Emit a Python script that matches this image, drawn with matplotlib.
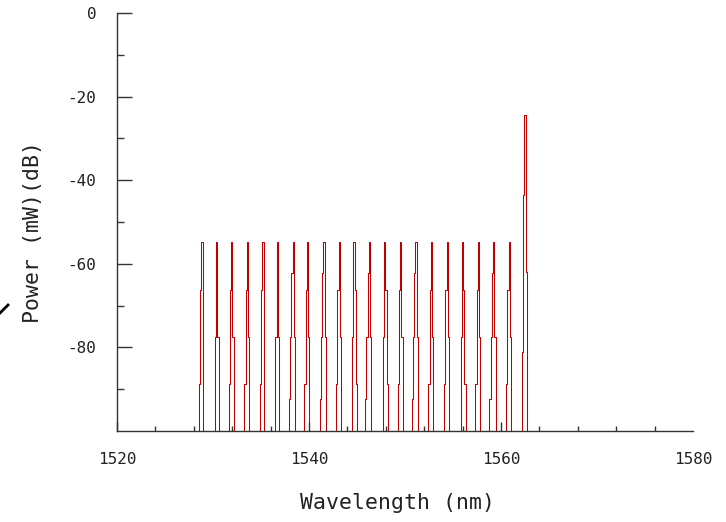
import matplotlib
matplotlib.use("Agg")
import matplotlib.pyplot as plt
from matplotlib.ticker import MultipleLocator, FixedLocator
from matplotlib.lines import Line2D

# Channel centre wavelengths (nm)
channel_nm = [1528.85, 1530.40, 1531.95, 1533.60, 1535.20, 1536.70, 1538.35,
              1539.85, 1541.55, 1543.15, 1544.70, 1546.30, 1547.90, 1549.55,
              1551.15, 1552.75, 1554.40, 1556.00, 1557.65, 1559.25, 1560.85,
              1562.50]

# Sampled power of each channel (dB), left to right across the line
channel_samples = [
    [-88.8, -66.3, -54.7],
    [-77.4, -54.7, -77.4],
    [-88.8, -66.3, -54.7, -77.4],
    [-88.8, -66.3, -54.7, -77.4],
    [-88.8, -66.3, -54.7],
    [-77.4, -54.7, -77.4],
    [-92.4, -77.4, -62.3, -54.7, -77.4],
    [-88.8, -66.3, -54.7, -77.4],
    [-92.4, -77.4, -62.3, -54.7, -77.4],
    [-88.8, -66.3, -54.7, -77.4],
    [-77.4, -54.7, -66.3, -88.8],
    [-92.4, -77.4, -62.3, -54.7, -77.4],
    [-77.4, -54.7, -66.3, -88.8],
    [-88.8, -66.3, -54.7, -77.4],
    [-92.4, -77.4, -62.3, -54.7, -77.4],
    [-88.8, -66.3, -54.7, -77.4],
    [-88.8, -66.3, -54.7, -77.4],
    [-77.4, -54.7, -66.3, -88.8],
    [-88.8, -66.3, -54.7, -77.4],
    [-92.4, -77.4, -62.3, -54.7, -77.4],
    [-88.8, -66.3, -54.7, -77.4],
    [-81.0, -43.5, -24.4, -62.0],
]

x_ticks = [1520, 1540, 1560, 1580]
y_ticks = [-80, -60, -40, -20, 0]
y_minor = [-90, -70, -50, -30, -10]

# sample spacing of the spectrum trace and noise floor (below the plotted range)
step = 0.13
floor = -120.0

wl, pw = [], []
for centre, samples in zip(channel_nm, channel_samples):
    k0 = samples.index(max(samples))
    xs = [centre + (k - k0) * step for k in range(len(samples))]
    wl += [xs[0] - step] + xs + [xs[-1] + step]
    pw += [floor] + samples + [floor]

W, H = 726, 522
fig = plt.figure(figsize=(W / 100, H / 100), dpi=100)
ax = fig.add_axes([117 / W, 1 - 431 / H, (693 - 117) / W, (431 - 13) / H])

ax.plot(wl, pw, color="#c00000", lw=0.75, drawstyle="steps-mid")

ax.set_xlim(1520, 1580)
ax.set_ylim(-100, 0)

for side in ("top", "right"):
    ax.spines[side].set_visible(False)
for side in ("left", "bottom"):
    ax.spines[side].set_color("#333333")
    ax.spines[side].set_linewidth(1.0)

ax.xaxis.set_major_locator(FixedLocator(x_ticks))
ax.xaxis.set_minor_locator(MultipleLocator(4))
ax.yaxis.set_major_locator(FixedLocator(y_ticks))
ax.yaxis.set_minor_locator(FixedLocator(y_minor))

mono = ["DejaVu Sans Mono"]
ax.set_xticklabels([str(v) for v in x_ticks], family=mono, fontsize=11.5, color="#222222")
ax.set_yticklabels([str(v) for v in y_ticks], family=mono, fontsize=11.5, color="#222222")

ax.tick_params(axis="x", which="major", direction="in", length=6.5, width=1.0,
               color="#333333", pad=15)
ax.tick_params(axis="x", which="minor", direction="in", length=3.6, width=1.0,
               color="#333333")
ax.tick_params(axis="y", which="major", direction="in", length=10.8, width=1.0,
               color="#333333", pad=15)
ax.tick_params(axis="y", which="minor", direction="in", length=5.3, width=1.0,
               color="#333333")

# no tick mark at the far right end of the wavelength axis
ax.xaxis.get_major_ticks()[-1].tick1line.set_visible(False)

fig.text(397 / W, 1 - 503 / H, "Wavelength (nm)", family=mono, fontsize=15.5,
         color="#222222", ha="center", va="center")
fig.text(33 / W, 1 - 232 / H, "Power (mW)(dB)", family=mono, fontsize=15.5,
         color="#222222", ha="center", va="center", rotation=90)

# small pen stroke at the left margin
fig.add_artist(Line2D([0 / W, 8 / W], [1 - 313 / H, 1 - 305 / H],
                      transform=fig.transFigure, color="black", lw=2.0))

fig.savefig("out.png", dpi=100)
